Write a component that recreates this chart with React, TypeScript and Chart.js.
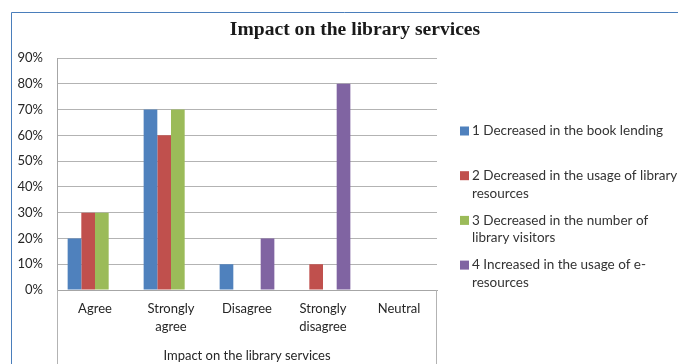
import React, { useEffect, useRef } from "react";
import { Chart, registerables } from "chart.js";

Chart.register(...registerables);

const chartTitle = "Impact on the library services";
const axisTitle = "Impact on the library services";
const categories: string[][] = [
  ["Agree"],
  ["Strongly", "agree"],
  ["Disagree"],
  ["Strongly", "disagree"],
  ["Neutral"],
];
const seriesLabels = [
  "1 Decreased in the book lending",
  "2 Decreased in the usage of library\nresources",
  "3 Decreased in the number of\nlibrary visitors",
  "4 Increased in the usage of e-\nresources",
];
const seriesColors = ["#4F81BD", "#C0504D", "#9BBB59", "#8064A2"];
const bookLending = [20, 70, 10, 0, 0];
const libraryResources = [30, 60, 0, 10, 0];
const libraryVisitors = [30, 70, 0, 0, 0];
const eResources = [0, 0, 20, 80, 0];
const seriesValues = [bookLending, libraryResources, libraryVisitors, eResources];
const yTicks = [0, 10, 20, 30, 40, 50, 60, 70, 80, 90];

const FONT = "Lato, 'Open Sans', sans-serif";

const decor = {
  id: "decor",
  afterDraw(chart: any) {
    const { ctx, chartArea: ca, width, height } = chart;
    ctx.save();
    // frame
    ctx.strokeStyle = "#4A7EBB";
    ctx.lineWidth = 1;
    ctx.beginPath();
    ctx.moveTo(11.5, height);
    ctx.lineTo(11.5, 12.5);
    ctx.lineTo(width, 12.5);
    ctx.stroke();
    // title
    ctx.fillStyle = "#1a1a1a";
    ctx.font = "bold 19.6px 'Liberation Serif', serif";
    ctx.textAlign = "center";
    ctx.textBaseline = "middle";
    ctx.fillText(chartTitle, 355, 30);
    // extension lines below plot
    ctx.strokeStyle = "#B3B3B3";
    ctx.beginPath();
    const lx = Math.round(ca.left) + 0.5;
    const rx = Math.round(ca.right) - 0.5;
    ctx.moveTo(lx, ca.bottom);
    ctx.lineTo(lx, height);
    ctx.moveTo(rx, ca.bottom);
    ctx.lineTo(rx, height);
    ctx.stroke();
    // legend
    const bx = ca.right + 23;
    const tx = bx + 12;
    let y = 131;
    const step = 44.7;
    ctx.font = "13.5px " + FONT;
    ctx.textAlign = "left";
    ctx.textBaseline = "middle";
    seriesLabels.forEach((lab, i) => {
      ctx.fillStyle = seriesColors[i];
      ctx.fillRect(bx, y - 4.5, 9, 9);
      ctx.fillStyle = "#333333";
      lab.split("\n").forEach((line, j) => {
        ctx.fillText(line, tx, y + j * 17.5);
      });
      y += step;
    });
    ctx.restore();
  },
};

export default function App() {
  const ref = useRef<HTMLCanvasElement | null>(null);
  useEffect(() => {
    if (!ref.current) return;
    const chart = new Chart(ref.current, {
      type: "bar",
      data: {
        labels: categories,
        datasets: seriesValues.map((vals, i) => ({
          label: seriesLabels[i].replace("\n", " "),
          data: vals,
          backgroundColor: seriesColors[i],
          borderWidth: 0,
          categoryPercentage: 0.72,
          barPercentage: 1,
        })),
      },
      options: {
        responsive: false,
        animation: false,
        layout: { padding: { top: 58, right: 241, bottom: 0, left: 0 } },
        plugins: {
          legend: { display: false },
          title: { display: false },
          tooltip: { enabled: false },
        },
        scales: {
          x: {
            grid: { display: false, drawTicks: false },
            border: { display: true, color: "#A6A6A6" },
            ticks: {
              color: "#262626",
              font: { family: FONT, size: 13, lineHeight: 1.385 },
              padding: 10,
              maxRotation: 0,
              autoSkip: false,
            },
            title: {
              display: true,
              text: axisTitle,
              color: "#262626",
              font: { family: FONT, size: 13, lineHeight: 1.2 },
              padding: { top: 0, bottom: 0 },
            },
            afterFit: (s: any) => {
              s.height = 74;
            },
          },
          y: {
            min: 0,
            max: 90,
            afterBuildTicks: (s: any) => {
              s.ticks = yTicks.map((v) => ({ value: v }));
            },
            grid: { color: "#B3B3B3", drawTicks: false },
            border: { display: true, color: "#A6A6A6" },
            ticks: {
              color: "#262626",
              font: { family: FONT, size: 13 },
              padding: 14,
              callback: (v: any) => v + "%",
            },
            afterFit: (s: any) => {
              s.width = 57;
            },
          },
        },
      },
      plugins: [decor],
    });
    return () => chart.destroy();
  }, []);
  return (
    <div style={{ position: "absolute", left: 0, top: 0, width: 678, height: 364, background: "#fff" }}>
      <canvas ref={ref} width={678} height={364} style={{ display: "block" }} />
    </div>
  );
}
